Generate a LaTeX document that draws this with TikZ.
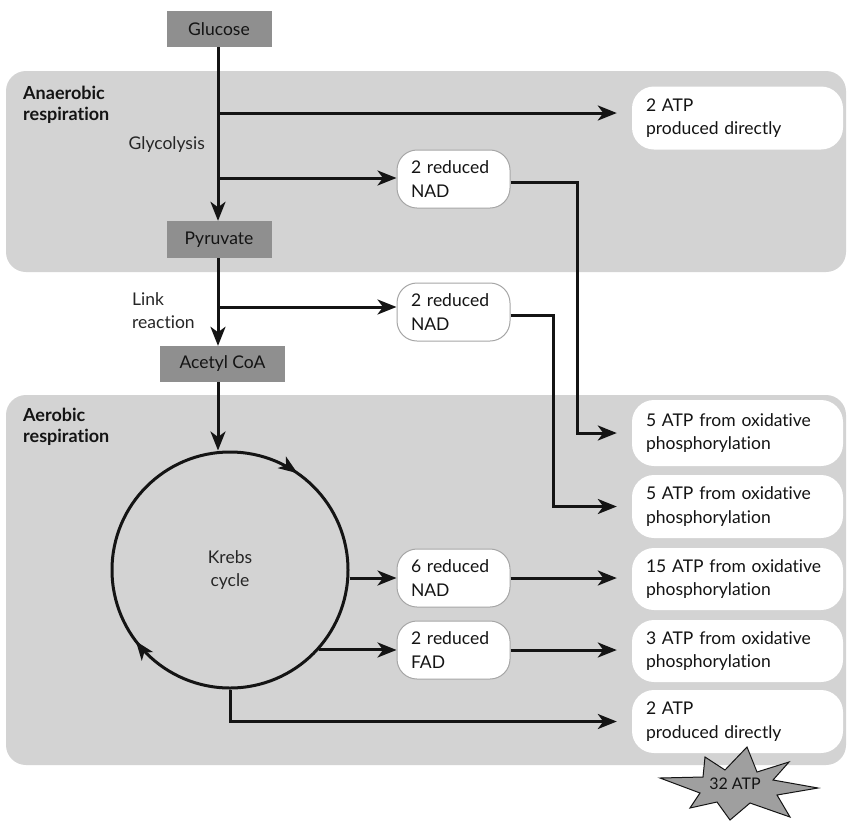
\documentclass[tikz,border=0pt]{standalone}
\usepackage{fontspec}
\setmainfont{Lato}[Ligatures=NoCommon]
\usetikzlibrary{arrows.meta,decorations.markings}
\definecolor{panel}{HTML}{D3D3D3}
\definecolor{dbox}{HTML}{8F8F8F}
\definecolor{ink}{HTML}{141414}
\definecolor{soft}{HTML}{262626}
\begin{document}
\begin{tikzpicture}[x=1pt,y=-1pt,
  every node/.style={font=\fontsize{17.5}{23.5}\selectfont, text=ink},
  line/.style={line width=3pt, draw=ink},
  arr/.style={line, -{Stealth[length=19pt,width=15pt,inset=5.5pt]}},
  darkbox/.style={fill=dbox, minimum height=36pt, inner sep=0pt},
  nadbox/.style={fill=white, draw=gray!70, line width=1pt, rounded corners=20pt, minimum width=113pt, minimum height=58pt, text width=85pt, inner xsep=14pt, align=left},
  atpbox/.style={fill=white, rounded corners=22pt, minimum height=63pt, text width=183pt, inner xsep=14pt, align=left},
  panelbox/.style={fill=panel, rounded corners=20pt},
  head/.style={font=\fontsize{18}{21}\selectfont\bfseries, align=left, anchor=north west, inner sep=0pt},
  lab/.style={text=soft, inner sep=0pt}
]
\useasboundingbox[fill=white] (0,0) rectangle (849,820);
% panels
\path[panelbox] (6,71) rectangle (846,272);
\path[panelbox] (6,395) rectangle (846,765);
\node[head] (anhead) at (23,86) {Anaerobic\\respiration};
\node[head] (aehead) at (23,408) {Aerobic\\respiration};
\node[lab, anchor=east] (glyc) at (205,145) {Glycolysis};
\node[lab, anchor=north west, align=left] (link) at (132,292) {Link\\reaction};
% main boxes
\node[darkbox, minimum width=105pt] (glucose) at (219,29) {Glucose};
\node[darkbox, minimum width=105pt, minimum height=37pt] (pyruvate) at (219,239.5) {Pyruvate};
\node[darkbox, minimum width=125pt] (acetyl) at (222.5,364) {Acetyl CoA};
% NAD / FAD boxes
\node[nadbox] (nad1) at (453.5,179) {2 reduced\\NAD};
\node[nadbox] (nad2) at (453.5,312) {2 reduced\\NAD};
\node[nadbox] (nad3) at (453.5,578) {6 reduced\\NAD};
\node[nadbox] (fad) at (453.5,650) {2 reduced\\FAD};
% ATP boxes
\node[atpbox] (atp1) at (737.5,118) {2 ATP\\produced directly};
\node[atpbox, minimum height=66pt] (atp2) at (737.5,433) {5 ATP from oxidative\\phosphorylation};
\node[atpbox] (atp3) at (737.5,506.5) {5 ATP from oxidative\\phosphorylation};
\node[atpbox, minimum height=62pt] (atp4) at (737.5,579) {15 ATP from oxidative\\phosphorylation};
\node[atpbox, minimum height=62pt] (atp5) at (737.5,651) {3 ATP from oxidative\\phosphorylation};
\node[atpbox] (atp6) at (737.5,721.5) {2 ATP\\produced directly};
% Krebs cycle
\node[circle, draw=ink, line width=3pt, minimum size=236pt, inner sep=0pt, align=center, text=soft,
  postaction={decorate, decoration={markings,
    mark=at position 0.153 with {\arrowreversed{Stealth[length=19pt,width=14pt,inset=5pt]}},
    mark=at position 0.603 with {\arrowreversed{Stealth[length=19pt,width=14pt,inset=5pt]}}}}]
  (krebs) at (230,570) {Krebs\\cycle};
% coordinates
\coordinate (m) at (218,0);
\coordinate (b1) at (218,113);
\coordinate (b2) at (218,178);
\coordinate (b3) at (218,307);
\coordinate (c1) at (577,300);
\coordinate (c2) at (553,400);
% connectors
\draw[arr] (glucose.south -| m) -- (pyruvate.north -| m);
\draw[arr, shorten >=15pt] (b1) -- (b1 -| atp1.west);
\draw[arr] (b2) -- (b2 -| nad1.west);
\draw[arr] (pyruvate.south -| m) -- (acetyl.north -| m);
\draw[arr] (b3) -- (b3 -| nad2.west);
\draw[arr] (acetyl.south -| m) -- (krebs.north -| m);
\draw[arr, shorten >=15pt] ([yshift=-3pt]nad1.east) -| (c1) |- (atp2.west);
\draw[arr, shorten >=15pt] ([yshift=-3pt]nad2.east) -| (c2) |- (atp3.west);
\draw[arr] (krebs.east |- nad3) -- (nad3.west);
\draw[arr, shorten >=15pt] (nad3.east) -- (nad3.east -| atp4.west);
\draw[arr] (krebs.-42) -- (krebs.-42 -| fad.west);
\draw[arr, shorten >=15pt] (fad.east) -- (fad.east -| atp5.west);
\draw[arr, shorten >=15pt] (krebs.south) |- (atp6.west);
% star
\path[draw=ink, line width=1pt, fill=gray!75] (747,747) -- (757,772) -- (789,762) -- (773,780) -- (818,788) -- (777,795) -- (790,817) -- (750,803) -- (730,820) -- (717,802) -- (690,808) -- (700,793) -- (660,778) -- (703,777) -- (705,757) -- (725,770) -- cycle;
\node[font=\fontsize{16}{18}\selectfont, inner sep=0pt] (total) at (735,784) {32 ATP};
\end{tikzpicture}
\end{document}
